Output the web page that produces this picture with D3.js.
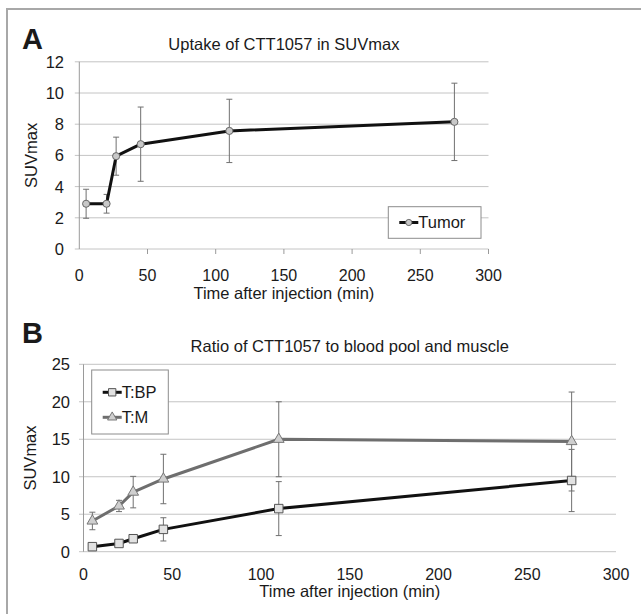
<!DOCTYPE html>
<head>
  <style>
    body { margin: 0; background: white; }
    svg text { font-family: "Liberation Sans", Arial, sans-serif; fill: #1a1a1a; }
    .grid line { stroke: #c4c4c4; stroke-width: 1; }
    .axisline { stroke: #9a9a9a; stroke-width: 1; }
    .err { stroke: #707070; stroke-width: 1; fill: none; }
  </style>
  <script src="https://d3js.org/d3.v7.min.js"></script>
  <title></title>
</head>
<body>
<div class="home"></div>
<script>
    // panel A: tumor uptake
    const timeA = [5, 20, 27, 45, 110, 275];
    const tumorMean = [2.9, 2.9, 5.95, 6.72, 7.57, 8.15];
    const tumorSd = [0.93, 0.6, 1.22, 2.38, 2.03, 2.48];
    const yTicksA = [0, 2, 4, 6, 8, 10, 12];

    // panel B: ratios
    const timeB = [5, 20, 28, 45, 110, 275];
    const tbpMean = [0.67, 1.1, 1.73, 2.98, 5.75, 9.5];
    const tbpSd = [0.35, 0.3, 0.4, 1.55, 3.6, 4.15];
    const tmMean = [4.1, 6.1, 7.95, 9.7, 15.0, 14.7];
    const tmSd = [1.17, 0.75, 2.1, 3.3, 5.0, 6.6];
    const yTicksB = [0, 5, 10, 15, 20, 25];
    const xTicks = [0, 50, 100, 150, 200, 250, 300];

    const width = 641, height = 614;
    const svg = d3.select(".home").append("svg")
        .attr("width", width).attr("height", height);

    // frame (top and left edges only)
    svg.append("path").attr("d", "M7,614 V9 H641")
        .attr("fill", "none").attr("stroke", "#a8a8a8").attr("stroke-width", 2);

    function panel(opt) {
        const x = d3.scaleLinear().domain([0, 300]).range(opt.xr);
        const y = d3.scaleLinear().domain(opt.yd).range(opt.yr);
        const g = svg.append("g");

        g.append("g").attr("class", "grid").selectAll("line")
            .data(opt.yTicks).enter().append("line")
            .attr("x1", opt.xr[0] - opt.tickLeft).attr("x2", opt.xr[1])
            .attr("y1", d => y(d)).attr("y2", d => y(d));

        g.append("line").attr("class", "axisline")
            .attr("x1", opt.xr[0]).attr("x2", opt.xr[0])
            .attr("y1", opt.yr[0]).attr("y2", opt.yr[1]);

        if (opt.xTickMarks) {
            g.selectAll(".xt").data(xTicks.slice(1)).enter().append("line")
                .attr("class", "axisline")
                .attr("x1", d => x(d)).attr("x2", d => x(d))
                .attr("y1", opt.yr[0]).attr("y2", opt.yr[0] + 5);
        }

        g.selectAll(".yl").data(opt.yTicks).enter().append("text")
            .attr("x", opt.yLabelX).attr("y", d => y(d)).attr("dy", "0.36em")
            .attr("text-anchor", "end").style("font-size", "16.5px")
            .text(d => d);

        g.selectAll(".xl").data(xTicks).enter().append("text")
            .attr("x", d => x(d)).attr("y", opt.xLabelY)
            .attr("text-anchor", "middle").style("font-size", "16px")
            .text(d => d);

        const cx = (opt.xr[0] + opt.xr[1]) / 2;
        g.append("text").attr("x", cx).attr("y", opt.titleY)
            .attr("text-anchor", "middle").style("font-size", "16.5px").text(opt.title);
        g.append("text").attr("x", cx).attr("y", opt.xTitleY)
            .attr("text-anchor", "middle").style("font-size", "16.5px")
            .text("Time after injection (min)");
        g.append("text")
            .attr("transform", `translate(${opt.yTitleX},${(opt.yr[0] + opt.yr[1]) / 2}) rotate(-90)`)
            .attr("text-anchor", "middle").style("font-size", "16.5px").text("SUVmax");
        g.append("text").attr("x", 22).attr("y", opt.letterY)
            .style("font-size", "29px").style("font-weight", "bold").text(opt.letter);

        return {x, y, g};
    }

    function series(p, times, mean, sd, s) {
        const pts = times.map((t, i) => ({t, m: mean[i], sd: sd[i]}));
        const eg = p.g.append("g");
        eg.selectAll("path").data(pts).enter().append("path")
            .attr("class", "err")
            .attr("d", d => {
                const xx = p.x(d.t), y1 = p.y(d.m + d.sd), y0 = p.y(d.m - d.sd);
                return `M${xx - 3},${y1}H${xx + 3}M${xx},${y1}V${y0}M${xx - 3},${y0}H${xx + 3}`;
            });
        p.g.append("path").datum(pts)
            .attr("fill", "none").attr("stroke", s.color).attr("stroke-width", 3)
            .attr("stroke-linejoin", "round")
            .attr("d", d3.line().x(d => p.x(d.t)).y(d => p.y(d.m)));
        const sym = d3.symbol().type(s.symbol).size(s.size);
        p.g.selectAll(null).data(pts).enter().append("path")
            .attr("transform", d => `translate(${p.x(d.t)},${p.y(d.m)})`)
            .attr("d", sym).attr("fill", s.fill).attr("stroke", s.stroke).attr("stroke-width", 1);
    }

    function legend(p, box, items) {
        const lg = p.g.append("g");
        lg.append("rect").attr("x", box[0]).attr("y", box[1])
            .attr("width", box[2]).attr("height", box[3])
            .attr("fill", "white").attr("stroke", "#8c8c8c").attr("stroke-width", 1);
        items.forEach((it, i) => {
            const yy = box[1] + it.dy;
            lg.append("line").attr("x1", box[0] + 11).attr("x2", box[0] + 30)
                .attr("y1", yy).attr("y2", yy)
                .attr("stroke", it.s.color).attr("stroke-width", 3);
            lg.append("path").attr("transform", `translate(${box[0] + 20.5},${yy})`)
                .attr("d", d3.symbol().type(it.s.symbol).size(it.s.size * 0.75))
                .attr("fill", it.s.fill).attr("stroke", it.s.stroke);
            lg.append("text").attr("x", box[0] + 30).attr("y", yy).attr("dy", "0.36em")
                .style("font-size", "16.5px").text(it.name);
        });
    }

    const tumorStyle = {color: "#111", symbol: d3.symbolCircle, size: 40, fill: "#c8c8c8", stroke: "#666"};
    const tbpStyle = {color: "#111", symbol: d3.symbolSquare, size: 72, fill: "#e2e2e2", stroke: "#555"};
    const tmStyle = {color: "#6e6e6e", symbol: d3.symbolTriangle, size: 50, fill: "#cfcfcf", stroke: "#777"};

    const pA = panel({
        xr: [79.3, 488.5], yd: [0, 12], yr: [249, 61.8], yTicks: yTicksA,
        tickLeft: 4.5, xTickMarks: true, yLabelX: 64, xLabelY: 281,
        title: "Uptake of CTT1057 in SUVmax", titleY: 50, xTitleY: 299, yTitleX: 37,
        letter: "A", letterY: 49
    });
    series(pA, timeA, tumorMean, tumorSd, tumorStyle);
    legend(pA, [388.3, 206.7, 92.7, 31.6], [{name: "Tumor", dy: 15.8, s: tumorStyle}]);

    const pB = panel({
        xr: [83.5, 616], yd: [0, 25], yr: [551.7, 364.3], yTicks: yTicksB,
        tickLeft: 4.5, xTickMarks: false, yLabelX: 70, xLabelY: 580,
        title: "Ratio of CTT1057 to blood pool and muscle", titleY: 352, xTitleY: 597, yTitleX: 36,
        letter: "B", letterY: 343
    });
    series(pB, timeB, tmMean, tmSd, tmStyle);
    series(pB, timeB, tbpMean, tbpSd, tbpStyle);
    legend(pB, [91.7, 370, 76.6, 64], [
        {name: "T:BP", dy: 22.3, s: tbpStyle},
        {name: "T:M", dy: 47.3, s: tmStyle}
    ]);
</script>
</body>
